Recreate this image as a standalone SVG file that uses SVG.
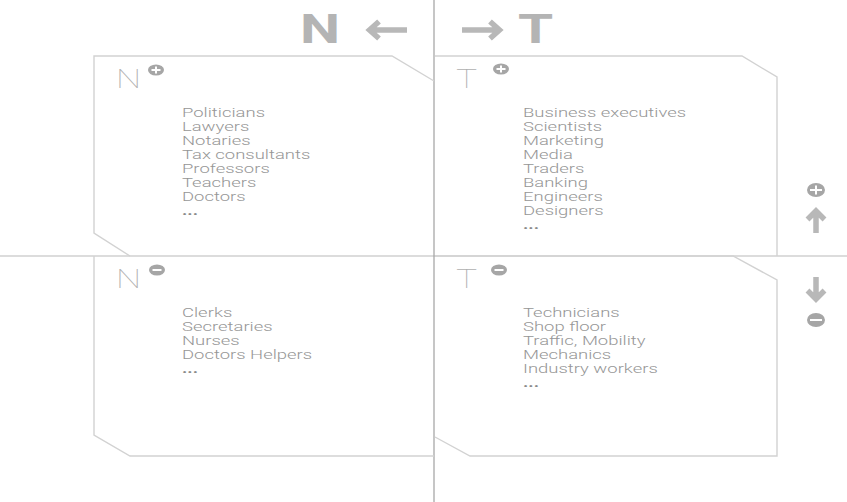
<svg xmlns="http://www.w3.org/2000/svg" width="847" height="502" viewBox="0 0 847 502">
<style>
.box{fill:none;stroke:#d2d2d2;stroke-width:1.4}
.lst{font-family:Roboto,"Liberation Sans",sans-serif;font-weight:300;font-size:13px;fill:#969696}
.dots{font-weight:700;fill:#8a8a8a}
.lbl{font-family:Roboto,"Liberation Sans",sans-serif;font-weight:100;font-size:25px;fill:#b0b0b0}
.big{font-family:Roboto,"Liberation Sans",sans-serif;font-weight:700;font-size:40px;fill:#b4b4b4}
.ico{fill:#a6a6a6}
.bar{stroke:#fff;stroke-width:2}
.arr{fill:none;stroke:#b8b8b8;stroke-width:5.5;stroke-linecap:butt;stroke-linejoin:miter}
</style>
<rect width="847" height="502" fill="#fff"/>
<g id="axes">
<line x1="0" y1="256" x2="847" y2="256" stroke="#dcdcdc" stroke-width="2"/>
<line x1="434" y1="0" x2="434" y2="502" stroke="#a0a0a0" stroke-width="1.2"/>
</g>
<g id="header">
<text class="big" transform="translate(300,43) scale(1.42,1)">N</text>
<path class="arr" d="M407,30 H370 M379,21.5 L369.5,30 L379,38.5"/>
<path class="arr" d="M462,30 H499 M490,21.5 L499.5,30 L490,38.5"/>
<text class="big" transform="translate(518,43) scale(1.42,1)">T</text>
</g>
<g id="side">
<ellipse class="ico" cx="816" cy="190" rx="9" ry="7"/>
<path class="bar" d="M810,190 H822 M816,185.5 V194.5"/>
<path class="arr" d="M816,233 V211 M807.5,219.5 L816,211 L824.5,219.5"/>
<path class="arr" d="M816,277 V299 M807.5,290.5 L816,299 L824.5,290.5"/>
<ellipse class="ico" cx="816" cy="320" rx="9" ry="7"/>
<path class="bar" d="M810,320 H822"/>
</g>
<g id="n-plus">
<path class="box" d="M434,81 L392,56 H94 V233 L130,256"/>
<text class="lbl" transform="translate(116,88) scale(1.42,1)">N</text>
<ellipse class="ico" cx="156" cy="70" rx="8" ry="5.5"/>
<path class="bar" d="M151.5,70 H160.5 M156,66.5 V73.5"/>
<g class="lst" transform="translate(182,117) scale(1.42,1)">
<text y="0">Politicians</text><text y="14">Lawyers</text><text y="28">Notaries</text><text y="42">Tax consultants</text><text y="56">Professors</text><text y="70">Teachers</text><text y="84">Doctors</text><text class="dots" y="98">...</text>
</g>
</g>
<g id="t-plus">
<path class="box" d="M435,56 H742 L777,77 V256"/>
<text class="lbl" transform="translate(456,88) scale(1.42,1)">T</text>
<ellipse class="ico" cx="501" cy="69" rx="8" ry="5.5"/>
<path class="bar" d="M496.5,69 H505.5 M501,65.5 V72.5"/>
<g class="lst" transform="translate(523,117) scale(1.42,1)">
<text y="0">Business executives</text><text y="14">Scientists</text><text y="28">Marketing</text><text y="42">Media</text><text y="56">Traders</text><text y="70">Banking</text><text y="84">Engineers</text><text y="98">Designers</text><text class="dots" y="112">...</text>
</g>
</g>
<g id="n-minus">
<path class="box" d="M94,256 V435 L130,456 H434"/>
<text class="lbl" transform="translate(116,288) scale(1.42,1)">N</text>
<ellipse class="ico" cx="157" cy="270" rx="8" ry="5.5"/>
<path class="bar" d="M152.5,270 H161.5"/>
<g class="lst" transform="translate(182,317) scale(1.42,1)">
<text y="0">Clerks</text><text y="14">Secretaries</text><text y="28">Nurses</text><text y="42">Doctors Helpers</text><text class="dots" y="56">...</text>
</g>
</g>
<g id="t-minus">
<path class="box" d="M435,256 H733 L777,280 V456 H470 L435,437"/>
<text class="lbl" transform="translate(456,288) scale(1.42,1)">T</text>
<ellipse class="ico" cx="499" cy="270" rx="8" ry="5.5"/>
<path class="bar" d="M494.5,270 H503.5"/>
<g class="lst" transform="translate(523,317) scale(1.42,1)">
<text y="0">Technicians</text><text y="14">Shop floor</text><text y="28">Traffic, Mobility</text><text y="42">Mechanics</text><text y="56">Industry workers</text><text class="dots" y="70">...</text>
</g>
</g>
</svg>
